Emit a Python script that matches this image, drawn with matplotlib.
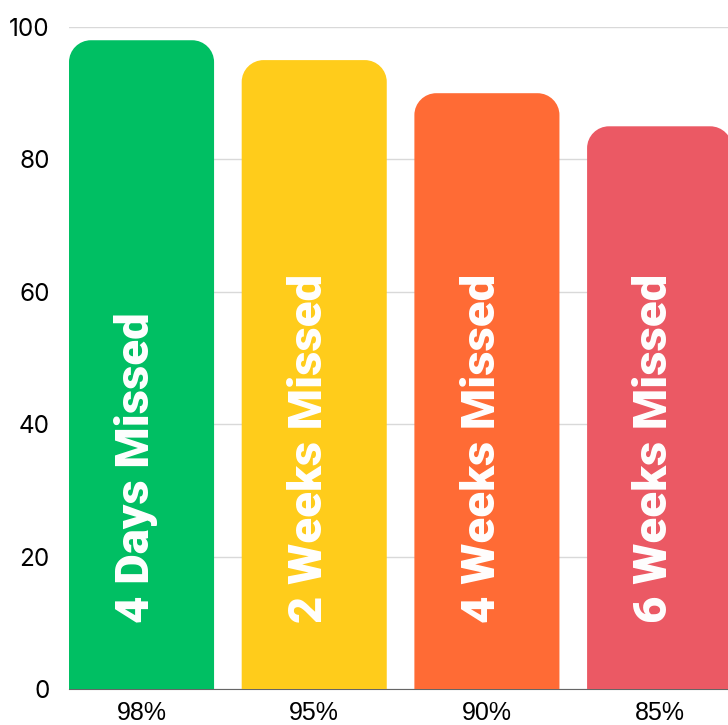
import matplotlib
matplotlib.use("Agg")
import matplotlib.pyplot as plt
from matplotlib.path import Path
from matplotlib.patches import PathPatch

# data
labels = ["4 Days Missed", "2 Weeks Missed", "4 Weeks Missed", "6 Weeks Missed"]
tick_labels = ["98%", "95%", "90%", "85%"]
values = [98, 95, 90, 85]
colors = ["#00BF63", "#FFCC1B", "#FF6B35", "#EB5964"]

fig = plt.figure(figsize=(7.28, 7.25), dpi=100)
ax = fig.add_axes([69 / 728, 36 / 725, 659 / 728, 662 / 725])

x = range(len(values))
width = 0.84
bars = ax.bar(x, values, width=width, color=colors, zorder=3)

ax.set_xlim(-0.42, 3.396)
ax.set_ylim(0, 100)

# swap the plain rectangles for ones with rounded top corners
rx, ry = 0.127, 3.3
k = 0.5523
for b in bars:
    x0 = b.get_x()
    x1 = x0 + b.get_width()
    h = b.get_height()
    verts = [(x0, 0), (x0, h - ry),
             (x0, h - ry + k * ry), (x0 + rx - k * rx, h), (x0 + rx, h),
             (x1 - rx, h),
             (x1 - rx + k * rx, h), (x1, h - ry + k * ry), (x1, h - ry),
             (x1, 0), (x0, 0)]
    codes = [Path.MOVETO, Path.LINETO,
             Path.CURVE4, Path.CURVE4, Path.CURVE4,
             Path.LINETO,
             Path.CURVE4, Path.CURVE4, Path.CURVE4,
             Path.LINETO, Path.CLOSEPOLY]
    ax.add_patch(PathPatch(Path(verts, codes), facecolor=b.get_facecolor(),
                           edgecolor="none", zorder=3))
    b.set_visible(False)

for i, lab in enumerate(labels):
    ax.text(i - 0.03, 10, lab, rotation=90, ha="center", va="bottom", color="white",
            fontsize=34, fontweight="black", family="Roboto", zorder=4)

ax.set_yticks([0, 20, 40, 60, 80, 100])
ax.set_yticklabels(["0", "20", "40", "60", "80", "100"], family="Inter", fontsize=17.5)
ax.set_xticks(list(x))
ax.set_xticklabels(tick_labels, family="Liberation Sans", fontsize=18)
ax.tick_params(length=0)
ax.tick_params(axis="y", pad=14)
ax.tick_params(axis="x", pad=9)

ax.grid(axis="y", color="#d9d9d9", linewidth=1, zorder=0)
for s in ["top", "right", "left"]:
    ax.spines[s].set_visible(False)
ax.spines["bottom"].set_color("#666666")
ax.spines["bottom"].set_zorder(2)

fig.savefig("out.png", dpi=100)
